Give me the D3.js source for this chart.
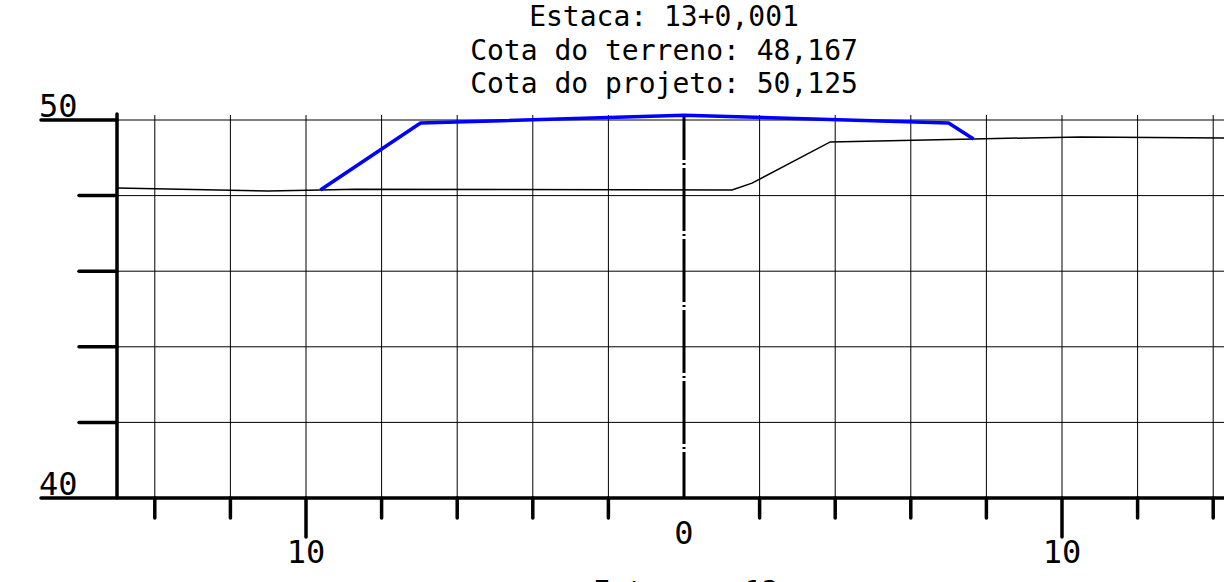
<!DOCTYPE html>
<html>
<head>
<meta charset="utf-8">
<script src="https://cdn.jsdelivr.net/npm/d3@7"></script>
<style>
  body { margin: 0; background: #fff; overflow: hidden; }
  text { font-family: "DejaVu Sans Mono", monospace; fill: #000; }
</style>
</head>
<body>
<div id="chart"></div>
<script>
// cross section data (offset in m, elevation in m)
var titleLines = ["Estaca: 13+0,001", "Cota do terreno: 48,167", "Cota do projeto: 50,125"];
var terrainOffset = [-15, -11.0, -9.62, -8.7, 1.27, 1.8, 3.87, 7.66, 10.5, 14.4];
var terrainElev   = [48.2, 48.12, 48.15, 48.17, 48.15, 48.33, 49.42, 49.5, 49.55, 49.52];
var designOffset  = [-9.62, -6.97, 0, 7.0, 7.66];
var designElev    = [48.15, 49.92, 50.125, 49.92, 49.5];
var xGrid = [-14, -12, -10, -8, -6, -4, -2, 2, 4, 6, 8, 10, 12, 14];
var yGrid = [42, 44, 46, 48, 50];
var xLabels = [{v: -10, t: "10"}, {v: 0, t: "0"}, {v: 10, t: "10"}];
var yLabels = [{v: 50, t: "50"}, {v: 40, t: "40"}];

var width = 1224, height = 582;
var x = d3.scaleLinear().domain([-10, 10]).range([306, 1062]);
var y = d3.scaleLinear().domain([40, 50]).range([498, 120]);
var x0 = x(-15), yTop = 115;

var svg = d3.select("#chart").append("svg")
  .attr("width", width)
  .attr("height", height);

// grid
svg.append("g").selectAll("line").data(xGrid).join("line")
  .attr("x1", d => x(d)).attr("x2", d => x(d))
  .attr("y1", yTop).attr("y2", y(40))
  .attr("stroke", "#000").attr("stroke-width", 1);
svg.append("g").selectAll("line").data(yGrid).join("line")
  .attr("x1", x0).attr("x2", width)
  .attr("y1", d => y(d)).attr("y2", d => y(d))
  .attr("stroke", "#000").attr("stroke-width", 1);

// center line, dash-dot
svg.append("line")
  .attr("x1", x(0)).attr("x2", x(0))
  .attr("y1", y(40)).attr("y2", yTop)
  .attr("stroke", "#000").attr("stroke-width", 3)
  .attr("stroke-dasharray", "63,3,2,3")
  .attr("stroke-dashoffset", 17);

// axes
var axis = svg.append("g").attr("stroke", "#000").attr("stroke-linecap", "round");
axis.append("line").attr("x1", x0).attr("x2", x0).attr("y1", yTop - 1).attr("y2", y(40)).attr("stroke-width", 3.5);
axis.append("line").attr("x1", 41).attr("x2", width + 5).attr("y1", y(40)).attr("y2", y(40)).attr("stroke-width", 3.5);
axis.append("line").attr("x1", 41).attr("x2", x0).attr("y1", y(50)).attr("y2", y(50)).attr("stroke-width", 3.5);
axis.selectAll(".yt").data([42, 44, 46, 48]).join("line").attr("class", "yt")
  .attr("x1", 79).attr("x2", x0)
  .attr("y1", d => y(d)).attr("y2", d => y(d))
  .attr("stroke-width", 3.5);
axis.selectAll(".xt").data(xGrid).join("line").attr("class", "xt")
  .attr("x1", d => x(d)).attr("x2", d => x(d))
  .attr("y1", y(40)).attr("y2", d => Math.abs(d) === 10 ? 537 : 518)
  .attr("stroke-width", 3.5);

// lines
var terrain = terrainOffset.map((d, i) => [d, terrainElev[i]]);
var design = designOffset.map((d, i) => [d, designElev[i]]);
var line = d3.line().x(d => x(d[0])).y(d => y(d[1]));
svg.append("path").datum(terrain).attr("d", line)
  .attr("fill", "none").attr("stroke", "#000").attr("stroke-width", 1.5);
svg.append("path").datum(design).attr("d", line)
  .attr("fill", "none").attr("stroke", "#0000ff").attr("stroke-width", 3.5)
  .attr("stroke-linejoin", "round");

// labels
svg.selectAll(".ttl").data(titleLines).join("text").attr("class", "ttl")
  .attr("x", 664).attr("y", (d, i) => 26 + i * 33.5)
  .attr("text-anchor", "middle").attr("font-size", 28)
  .text(d => d);
svg.selectAll(".yl").data(yLabels).join("text").attr("class", "yl")
  .attr("x", 39).attr("y", d => y(d.v) - 3)
  .attr("font-size", 32)
  .text(d => d.t);
svg.selectAll(".xl").data(xLabels).join("text").attr("class", "xl")
  .attr("x", d => x(d.v)).attr("y", d => d.v === 0 ? 544 : 563)
  .attr("text-anchor", "middle").attr("font-size", 32)
  .text(d => d.t);
svg.append("text").attr("x", 686).attr("y", 601)
  .attr("text-anchor", "middle").attr("font-size", 28)
  .text("Estaca = 13");
</script>
</body>
</html>
